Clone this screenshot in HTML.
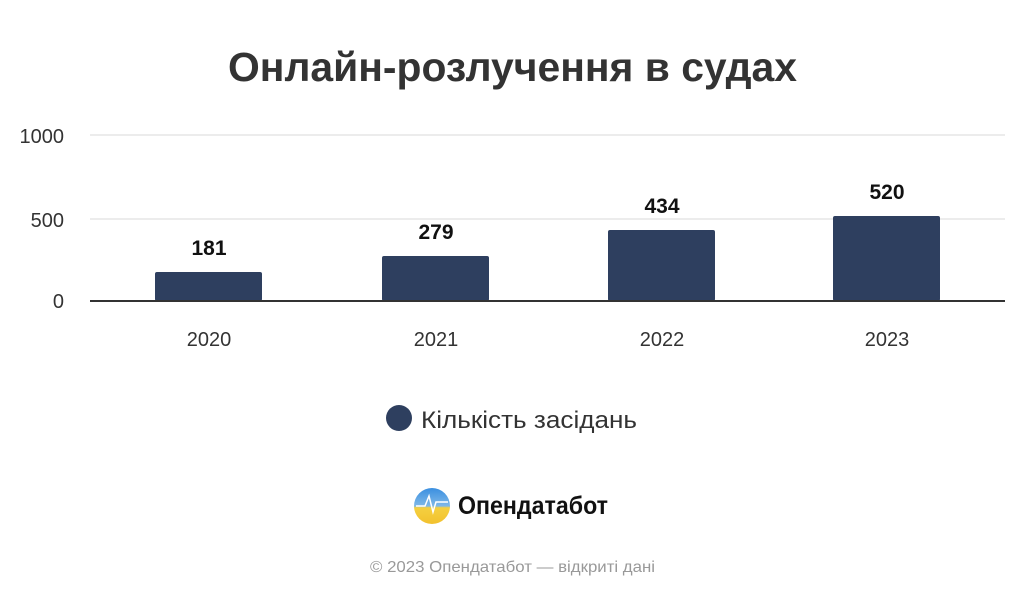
<!DOCTYPE html>
<html><head><meta charset="utf-8"><style>
body{margin:0;background:#fff;}
svg{display:block;font-family:"Liberation Sans","DejaVu Sans",sans-serif;}
</style></head><body>
<svg width="1024" height="597" viewBox="0 0 1024 597">
<rect width="1024" height="597" fill="#fff"/>
<text x="228" y="81" font-size="41" font-weight="bold" fill="#333" textLength="569" lengthAdjust="spacingAndGlyphs">Онлайн-розлучення в судах</text>
<line x1="90" y1="135" x2="1005" y2="135" stroke="#e6e6e6" stroke-width="1.5"/>
<line x1="90" y1="219" x2="1005" y2="219" stroke="#e6e6e6" stroke-width="1.5"/>
<g font-size="20" fill="#333" text-anchor="end">
<text x="64" y="143">1000</text>
<text x="64" y="227">500</text>
<text x="64" y="308">0</text>
</g>
<g fill="#2e3f5f">
<rect x="155" y="272" width="107" height="29" rx="2"/>
<rect x="382" y="256" width="107" height="45" rx="2"/>
<rect x="608" y="230" width="107" height="71" rx="2"/>
<rect x="833" y="216" width="107" height="85" rx="2"/>
</g>
<line x1="90" y1="301" x2="1005" y2="301" stroke="#333" stroke-width="2"/>
<g font-size="21" font-weight="bold" fill="#111" text-anchor="middle">
<text x="209" y="255">181</text>
<text x="436" y="239">279</text>
<text x="662" y="213">434</text>
<text x="887" y="199">520</text>
</g>
<g font-size="20" fill="#333" text-anchor="middle">
<text x="209" y="346">2020</text>
<text x="436" y="346">2021</text>
<text x="662" y="346">2022</text>
<text x="887" y="346">2023</text>
</g>
<circle cx="399" cy="418" r="13" fill="#2e3f5f"/>
<text x="421" y="428" font-size="24" fill="#333" textLength="216" lengthAdjust="spacingAndGlyphs">Кількість засідань</text>
<defs>
<linearGradient id="lg" x1="0" y1="0" x2="0" y2="1">
<stop offset="0" stop-color="#3a8fe0"/><stop offset="0.5" stop-color="#7fb8e8"/><stop offset="0.55" stop-color="#f5d040"/><stop offset="1" stop-color="#f2c12e"/>
</linearGradient>
</defs>
<circle cx="432" cy="506" r="18" fill="url(#lg)"/>
<polyline points="416,506 425,506 429,496 433,512 436,502 448,502" fill="none" stroke="#fff" stroke-width="1.5"/>
<text x="458" y="514" font-size="25" font-weight="bold" fill="#111" textLength="150" lengthAdjust="spacingAndGlyphs">Опендатабот</text>
<text x="370" y="572" font-size="16" fill="#999" textLength="285" lengthAdjust="spacingAndGlyphs">© 2023 Опендатабот — відкриті дані</text>
</svg>
</body></html>
